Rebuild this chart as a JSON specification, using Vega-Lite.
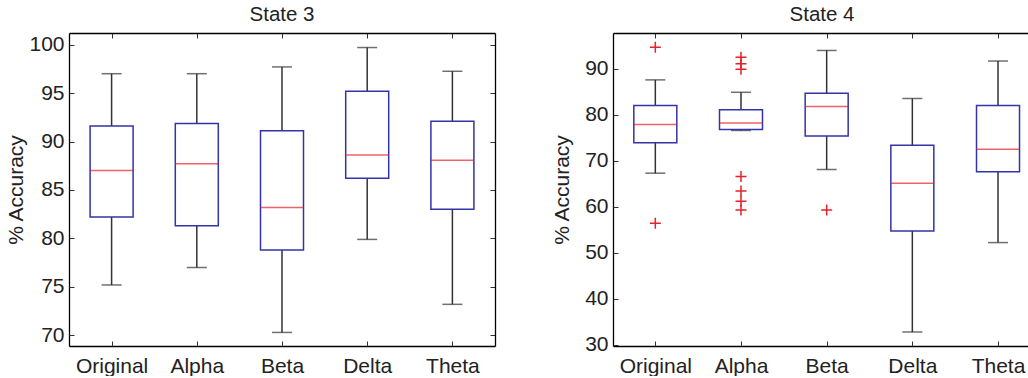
{
  "$schema": "https://vega.github.io/schema/vega-lite/v6.json",
  "background": "white",
  "padding": {"left": 5, "top": 5, "right": 0, "bottom": 0},
  "spacing": 55,
  "config": {
    "view": {"stroke": null},
    "font": "Liberation Sans",
    "axis": {"grid": false, "labelFont": "Liberation Sans", "titleFont": "Liberation Sans", "labelFontSize": 21, "titleFontSize": 21, "labelColor": "#222", "titleColor": "#222", "titleFontWeight": "normal", "domainColor": "#000", "domainWidth": 1.3, "tickColor": "#333", "tickWidth": 1, "labelAngle": 0},
    "title": {"font": "Liberation Sans", "fontSize": 20.5, "fontWeight": "normal", "color": "#222", "offset": 7}
  },
  "datasets": {
    "stats": [
      {"state": "State 3", "band": "Original", "lower": 75.2, "q1": 82.2, "median": 87.0, "q3": 91.6, "upper": 97.0},
      {"state": "State 3", "band": "Alpha", "lower": 77.0, "q1": 81.3, "median": 87.7, "q3": 91.85, "upper": 97.0},
      {"state": "State 3", "band": "Beta", "lower": 70.3, "q1": 78.8, "median": 83.2, "q3": 91.1, "upper": 97.7},
      {"state": "State 3", "band": "Delta", "lower": 79.9, "q1": 86.2, "median": 88.6, "q3": 95.2, "upper": 99.7},
      {"state": "State 3", "band": "Theta", "lower": 73.2, "q1": 83.0, "median": 88.06, "q3": 92.1, "upper": 97.25},
      {"state": "State 4", "band": "Original", "lower": 67.3, "q1": 73.9, "median": 77.9, "q3": 82.0, "upper": 87.6},
      {"state": "State 4", "band": "Alpha", "lower": 76.6, "q1": 76.8, "median": 78.2, "q3": 81.1, "upper": 84.9},
      {"state": "State 4", "band": "Beta", "lower": 68.1, "q1": 75.4, "median": 81.8, "q3": 84.7, "upper": 94.0},
      {"state": "State 4", "band": "Delta", "lower": 32.75, "q1": 54.7, "median": 65.1, "q3": 73.4, "upper": 83.55},
      {"state": "State 4", "band": "Theta", "lower": 52.2, "q1": 67.6, "median": 72.5, "q3": 82.0, "upper": 91.7}
    ],
    "outliers": [
      {"state": "State 4", "band": "Original", "value": 94.7},
      {"state": "State 4", "band": "Original", "value": 56.4},
      {"state": "State 4", "band": "Alpha", "value": 92.5},
      {"state": "State 4", "band": "Alpha", "value": 91.1},
      {"state": "State 4", "band": "Alpha", "value": 89.9},
      {"state": "State 4", "band": "Alpha", "value": 66.6},
      {"state": "State 4", "band": "Alpha", "value": 63.4},
      {"state": "State 4", "band": "Alpha", "value": 61.2},
      {"state": "State 4", "band": "Alpha", "value": 59.3},
      {"state": "State 4", "band": "Beta", "value": 59.3}
    ]
  },
  "hconcat": [
    {
      "width": 426,
      "height": 313,
      "title": "State 3",
      "data": {"name": "stats"},
      "transform": [{"filter": "datum.state === 'State 3'"}],
      "resolve": {"axis": {"x": "independent", "y": "independent"}},
      "layer": [
        {
          "mark": {"type": "rule", "color": "#333", "strokeWidth": 1.5},
          "encoding": {
            "x": {"field": "band", "type": "nominal", "scale": {"type": "point", "domain": ["Original", "Alpha", "Beta", "Delta", "Theta"], "padding": 0.5}, "axis": {"orient": "bottom", "title": null, "ticks": false, "domain": true, "labelPadding": 9}},
            "y": {"field": "lower", "type": "quantitative", "scale": {"domain": [68.9, 101.2], "nice": false, "zero": false}, "axis": {"orient": "left", "title": "% Accuracy", "values": [70, 75, 80, 85, 90, 95, 100], "ticks": false, "domain": true, "labelPadding": 5, "titlePadding": 2}},
            "y2": {"field": "upper"}
          }
        },
        {
          "mark": {"type": "tick", "color": "#333", "size": 20, "thickness": 1.5},
          "encoding": {
            "x": {"field": "band", "type": "nominal", "scale": {"type": "point", "domain": ["Original", "Alpha", "Beta", "Delta", "Theta"], "padding": 0.5}, "axis": {"orient": "top", "title": null, "labels": false, "ticks": true, "tickSize": -5, "domain": true}},
            "y": {"field": "lower", "type": "quantitative", "scale": {"domain": [68.9, 101.2], "nice": false, "zero": false}, "axis": {"orient": "right", "title": null, "labels": false, "values": [70, 75, 80, 85, 90, 95, 100], "ticks": true, "tickSize": -5, "domain": true}}
          }
        },
        {
          "mark": {"type": "tick", "color": "#333", "size": 20, "thickness": 1.5},
          "encoding": {
            "x": {"field": "band", "type": "nominal", "scale": {"type": "point", "domain": ["Original", "Alpha", "Beta", "Delta", "Theta"], "padding": 0.5}, "axis": {"orient": "bottom", "title": null, "labels": false, "ticks": true, "tickSize": -5, "domain": false}},
            "y": {"field": "upper", "type": "quantitative", "scale": {"domain": [68.9, 101.2], "nice": false, "zero": false}, "axis": {"orient": "left", "title": null, "labels": false, "values": [70, 75, 80, 85, 90, 95, 100], "ticks": true, "tickSize": -5, "domain": false}}
          }
        },
        {
          "mark": {"type": "bar", "fill": "white", "stroke": "#3333aa", "strokeWidth": 1.5, "size": 43},
          "encoding": {
            "x": {"field": "band", "type": "nominal", "axis": null},
            "y": {"field": "q1", "type": "quantitative", "axis": null},
            "y2": {"field": "q3"}
          }
        },
        {
          "mark": {"type": "tick", "color": "#e8202a", "size": 43, "thickness": 1.5},
          "encoding": {
            "x": {"field": "band", "type": "nominal", "axis": null},
            "y": {"field": "median", "type": "quantitative", "axis": null}
          }
        }
      ]
    },
    {
      "width": 418,
      "height": 313,
      "title": "State 4",
      "resolve": {"axis": {"x": "independent", "y": "independent"}},
      "layer": [
        {
          "data": {"name": "stats"},
          "transform": [{"filter": "datum.state === 'State 4'"}],
          "mark": {"type": "rule", "color": "#333", "strokeWidth": 1.5},
          "encoding": {
            "x": {"field": "band", "type": "nominal", "scale": {"type": "point", "domain": ["Original", "Alpha", "Beta", "Delta", "Theta"], "padding": 0.4395, "align": 0.562}, "axis": {"orient": "bottom", "title": null, "ticks": false, "domain": true, "labelPadding": 9}},
            "y": {"field": "lower", "type": "quantitative", "scale": {"domain": [29.7, 97.8], "nice": false, "zero": false}, "axis": {"orient": "left", "title": "% Accuracy", "values": [30, 40, 50, 60, 70, 80, 90], "ticks": false, "domain": true, "labelPadding": 5, "titlePadding": 12}},
            "y2": {"field": "upper"}
          }
        },
        {
          "data": {"name": "stats"},
          "transform": [{"filter": "datum.state === 'State 4'"}],
          "mark": {"type": "tick", "color": "#333", "size": 20, "thickness": 1.5},
          "encoding": {
            "x": {"field": "band", "type": "nominal", "scale": {"type": "point", "domain": ["Original", "Alpha", "Beta", "Delta", "Theta"], "padding": 0.4395, "align": 0.562}, "axis": {"orient": "top", "title": null, "labels": false, "ticks": true, "tickSize": -5, "domain": true}},
            "y": {"field": "lower", "type": "quantitative", "scale": {"domain": [29.7, 97.8], "nice": false, "zero": false}, "axis": null}
          }
        },
        {
          "data": {"name": "stats"},
          "transform": [{"filter": "datum.state === 'State 4'"}],
          "mark": {"type": "tick", "color": "#333", "size": 20, "thickness": 1.5},
          "encoding": {
            "x": {"field": "band", "type": "nominal", "scale": {"type": "point", "domain": ["Original", "Alpha", "Beta", "Delta", "Theta"], "padding": 0.4395, "align": 0.562}, "axis": {"orient": "bottom", "title": null, "labels": false, "ticks": true, "tickSize": -5, "domain": false}},
            "y": {"field": "upper", "type": "quantitative", "scale": {"domain": [29.7, 97.8], "nice": false, "zero": false}, "axis": {"orient": "left", "title": null, "labels": false, "values": [30, 40, 50, 60, 70, 80, 90], "ticks": true, "tickSize": -5, "domain": false}}
          }
        },
        {
          "data": {"name": "stats"},
          "transform": [{"filter": "datum.state === 'State 4'"}],
          "mark": {"type": "bar", "fill": "white", "stroke": "#3333aa", "strokeWidth": 1.5, "size": 43},
          "encoding": {
            "x": {"field": "band", "type": "nominal", "axis": null},
            "y": {"field": "q1", "type": "quantitative", "axis": null},
            "y2": {"field": "q3"}
          }
        },
        {
          "data": {"name": "stats"},
          "transform": [{"filter": "datum.state === 'State 4'"}],
          "mark": {"type": "tick", "color": "#e8202a", "size": 43, "thickness": 1.5},
          "encoding": {
            "x": {"field": "band", "type": "nominal", "axis": null},
            "y": {"field": "median", "type": "quantitative", "axis": null}
          }
        },
        {
          "data": {"name": "outliers"},
          "mark": {"type": "point", "shape": "M-1,0H1M0,-1V1", "filled": false, "stroke": "#e8202a", "strokeWidth": 1.5, "size": 121, "opacity": 1},
          "encoding": {
            "x": {"field": "band", "type": "nominal", "axis": null},
            "y": {"field": "value", "type": "quantitative", "axis": null}
          }
        }
      ]
    }
  ]
}
